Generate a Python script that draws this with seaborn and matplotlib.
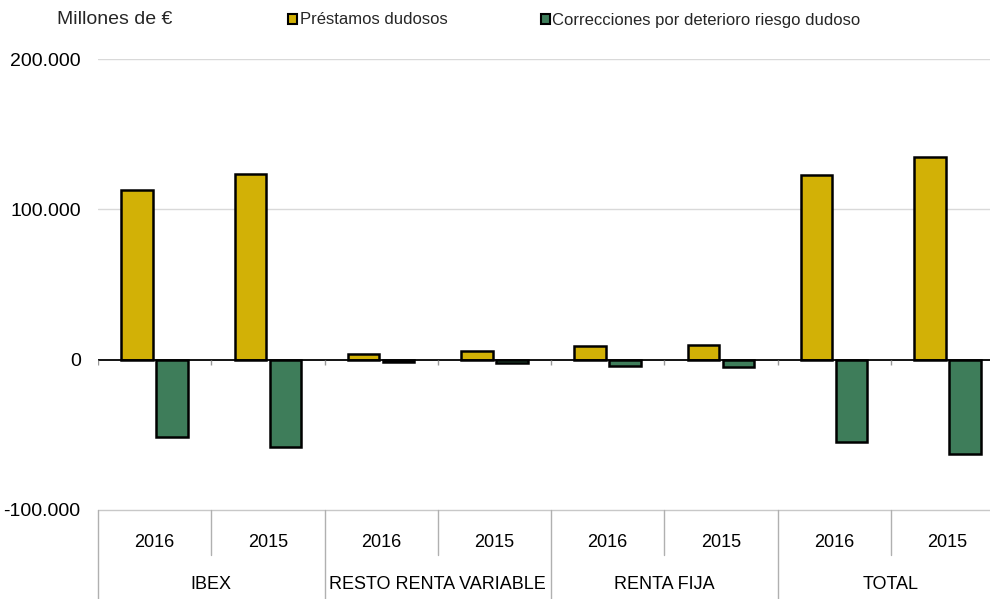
import matplotlib
matplotlib.use("Agg")
import matplotlib.pyplot as plt
import seaborn as sns
import pandas as pd
from matplotlib.patches import Patch

groups = ["IBEX", "RESTO RENTA VARIABLE", "RENTA FIJA", "TOTAL"]
years = ["2016", "2015"]
series_names = ["Préstamos dudosos", "Correcciones por deterioro riesgo dudoso"]
prestamos = [113000, 123600, 3800, 5500, 8800, 9500, 123000, 135000]
correcciones = [-51600, -58000, -1500, -2000, -4000, -4800, -55000, -63000]
yticks = [-100000, 0, 100000, 200000]
ytick_labels = ["-100.000", "0", "100.000", "200.000"]

colors = ["#D2B106", "#3E7D5A"]

sns.set_theme(style="white")
plt.rcParams["font.family"] = ["Liberation Sans", "DejaVu Sans"]

slots = [f"{g} {y}" for g in groups for y in years]
df = pd.DataFrame({
    "slot": slots * 2,
    "value": prestamos + correcciones,
    "serie": [series_names[0]] * len(slots) + [series_names[1]] * len(slots),
})

fig = plt.figure(figsize=(9.9, 5.99), dpi=100)
W, H = 990, 599
ax = fig.add_axes([98 / W, (H - 510) / H, (1004 - 98) / W, (510 - 59) / H])

sns.barplot(data=df, x="slot", y="value", hue="serie", order=slots,
            hue_order=series_names, palette=colors, saturation=1, width=0.62, gap=0.1,
            edgecolor="black", linewidth=1.8, ax=ax, legend=False, zorder=3)

ax.set_xlim(-0.5, 7.5)
ax.set_ylim(-100000, 200000)
for s in ax.spines.values():
    s.set_visible(False)
ax.set_xlabel("")
ax.set_ylabel("")
ax.set_xticks([])
ax.set_yticks(yticks)
ax.set_yticklabels(ytick_labels, fontsize=14, color="black")
ax.tick_params(axis="y", length=0, pad=12.5)
for v in [100000, 200000]:
    ax.axhline(v, color="#d9d9d9", lw=1, zorder=1)
ax.axhline(-100000, color="#c8c8c8", lw=1, zorder=1, clip_on=False)
ax.axhline(0, color="black", lw=1.3, zorder=4)
ax.vlines([i - 0.5 for i in range(9)], 0, -3300, color="#999999", lw=1, zorder=4)

# category table below the axis
trans = ax.get_xaxis_transform()
for i in range(9):
    b = i - 0.5
    ybot = -0.197 if i % 2 == 0 else -0.0998
    ax.plot([b, b], [0, ybot], transform=trans, color="#b0b0b0", lw=1, clip_on=False)
for i, s in enumerate(slots):
    ax.text(i, -0.073, s.split()[-1], transform=trans, ha="center", va="center",
            fontsize=13, color="black")
for j, g in enumerate(groups):
    ax.text(2 * j + 0.5, -0.166, g, transform=trans, ha="center", va="center",
            fontsize=13, color="black")

fig.text(57 / W, 1 - 20 / H, "Millones de €", fontsize=14, va="center", ha="left")
handles = [Patch(facecolor=c, edgecolor="black", lw=1.5) for c in colors]
fig.legend(handles, series_names, loc="center left", bbox_to_anchor=(288 / W, 1 - 20 / H),
           ncol=2, frameon=False, fontsize=12, handlelength=0.55, handleheight=0.55,
           handletextpad=0.15, columnspacing=5.6, borderaxespad=0, borderpad=0)

fig.savefig("out.png", dpi=100)
